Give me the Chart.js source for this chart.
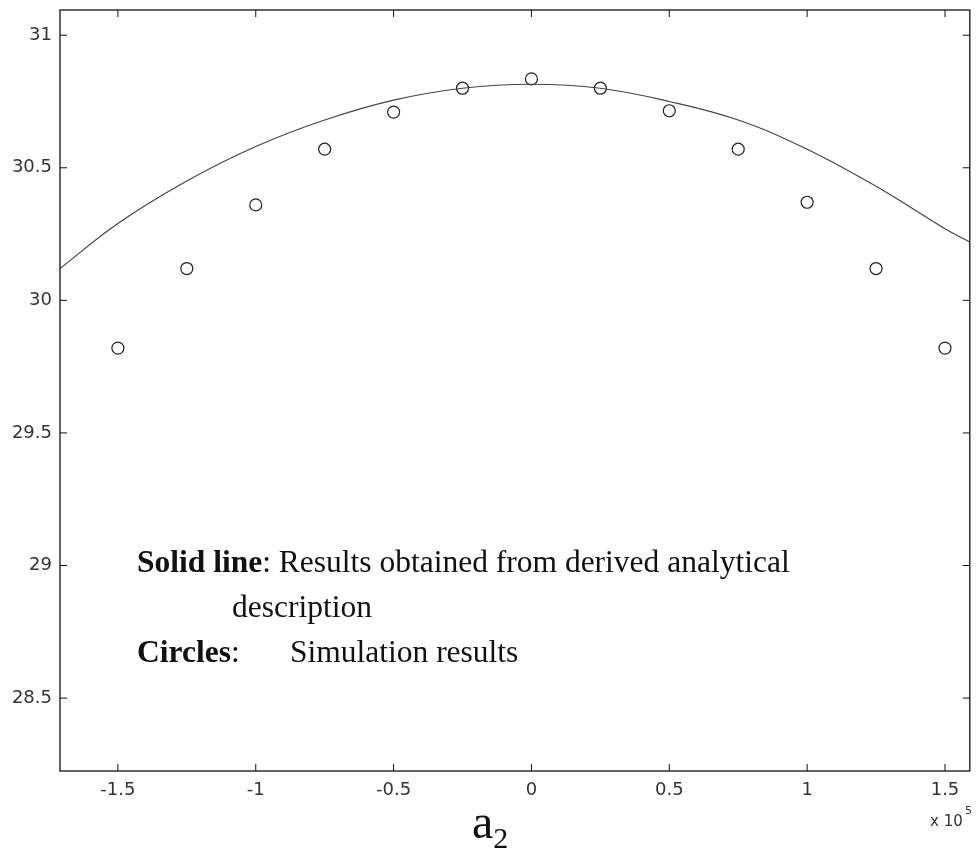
<!DOCTYPE html>
<html>
<head>
<meta charset="utf-8">
<script src="https://cdn.jsdelivr.net/npm/chart.js@4/dist/chart.umd.min.js"></script>
<style>
  html, body { margin: 0; padding: 0; background: #fff; overflow: hidden; }
  canvas { display: block; }
</style>
</head>
<body>
<canvas id="chart" width="977" height="853"></canvas>
<script>
// x values are in units of 1e5
const simX = [-1.5, -1.25, -1, -0.75, -0.5, -0.25, 0, 0.25, 0.5, 0.75, 1, 1.25, 1.5];
const simY = [29.82, 30.12, 30.36, 30.57, 30.71, 30.80, 30.835, 30.80, 30.715, 30.57, 30.37, 30.12, 29.82];

const lineX = [-1.71, -1.5, -1.25, -1, -0.75, -0.5, -0.25, 0, 0.25, 0.5, 0.75, 1, 1.25, 1.5, 1.59];
const lineY = [30.12, 30.29, 30.45, 30.58, 30.68, 30.755, 30.80, 30.815, 30.80, 30.75, 30.68, 30.57, 30.43, 30.27, 30.22];

const xTicks = [-1.5, -1, -0.5, 0, 0.5, 1, 1.5];
const yTicks = [28.5, 29, 29.5, 30, 30.5, 31];

const toPoints = (xs, ys) => xs.map((x, i) => ({ x, y: ys[i] }));

// frame, inward ticks, annotation text
const decorations = {
  id: "decorations",
  afterDraw(chart) {
    const { ctx, chartArea: a, scales } = chart;
    ctx.save();
    ctx.strokeStyle = "#111";
    ctx.lineWidth = 1.3;
    ctx.strokeRect(a.left, a.top, a.right - a.left, a.bottom - a.top);

    ctx.lineWidth = 1;
    ctx.beginPath();
    xTicks.forEach((v) => {
      const px = scales.x.getPixelForValue(v);
      ctx.moveTo(px, a.bottom); ctx.lineTo(px, a.bottom - 7);
      ctx.moveTo(px, a.top); ctx.lineTo(px, a.top + 7);
    });
    yTicks.forEach((v) => {
      const py = scales.y.getPixelForValue(v);
      ctx.moveTo(a.left, py); ctx.lineTo(a.left + 7, py);
      ctx.moveTo(a.right, py); ctx.lineTo(a.right - 7, py);
    });
    ctx.stroke();

    // x 10^5 multiplier
    ctx.fillStyle = "#333";
    ctx.textBaseline = "alphabetic";
    ctx.font = "15px 'DejaVu Sans'";
    ctx.fillText("x 10", 930, 826);
    ctx.font = "11px 'DejaVu Sans'";
    ctx.fillText("5", 965, 814);

    // annotation
    ctx.fillStyle = "#111";
    const serif = "'Liberation Serif', 'Times New Roman', serif";
    const size = "31.5px ";
    let x = 137;
    ctx.font = "bold " + size + serif;
    ctx.fillText("Solid line", x, 572);
    x += ctx.measureText("Solid line").width;
    ctx.font = size + serif;
    ctx.fillText(": Results obtained from derived analytical", x, 572);
    ctx.fillText("description", 232, 617);
    ctx.font = "bold " + size + serif;
    ctx.fillText("Circles", 137, 662);
    x = 137 + ctx.measureText("Circles").width;
    ctx.font = size + serif;
    ctx.fillText(":", x, 662);
    ctx.fillText("Simulation results", 290, 662);

    // axis label a2
    ctx.font = "48px " + serif;
    ctx.fillText("a", 472, 838);
    const aw = ctx.measureText("a").width;
    ctx.font = "30px " + serif;
    ctx.fillText("2", 472 + aw, 848);
    ctx.restore();
  },
};

new Chart(document.getElementById("chart"), {
  type: "scatter",
  data: {
    datasets: [
      {
        label: "Analytical",
        data: toPoints(lineX, lineY),
        showLine: true,
        borderColor: "#444",
        borderWidth: 1.2,
        pointRadius: 0,
        tension: 0.4,
        fill: false,
      },
      {
        label: "Simulation",
        data: toPoints(simX, simY),
        showLine: false,
        pointStyle: "circle",
        pointRadius: 6,
        pointBorderWidth: 1.2,
        pointBorderColor: "#222",
        pointBackgroundColor: "rgba(0,0,0,0)",
      },
    ],
  },
  options: {
    responsive: false,
    animation: false,
    events: [],
    layout: { padding: { top: 10, right: 3, left: 0, bottom: 0 } },
    plugins: { legend: { display: false }, tooltip: { enabled: false } },
    scales: {
      x: {
        type: "linear",
        min: -1.71,
        max: 1.59,
        afterFit: (s) => { s.height = 82; s.paddingLeft = 0; s.paddingRight = 0; },
        afterBuildTicks: (s) => { s.ticks = xTicks.map((v) => ({ value: v })); },
        grid: { display: false, drawTicks: false },
        border: { display: false },
        ticks: {
          padding: 9,
          color: "#333",
          font: { family: "'DejaVu Sans'", size: 18 },
          callback: (v) => String(v),
        },
      },
      y: {
        type: "linear",
        min: 28.225,
        max: 31.095,
        afterFit: (s) => { s.width = 60; s.paddingTop = 0; s.paddingBottom = 0; },
        afterBuildTicks: (s) => { s.ticks = yTicks.map((v) => ({ value: v })); },
        grid: { display: false, drawTicks: false },
        border: { display: false },
        ticks: {
          padding: 8,
          color: "#333",
          font: { family: "'DejaVu Sans'", size: 18 },
          callback: (v) => String(v),
        },
      },
    },
  },
  plugins: [decorations],
});
</script>
</body>
</html>
